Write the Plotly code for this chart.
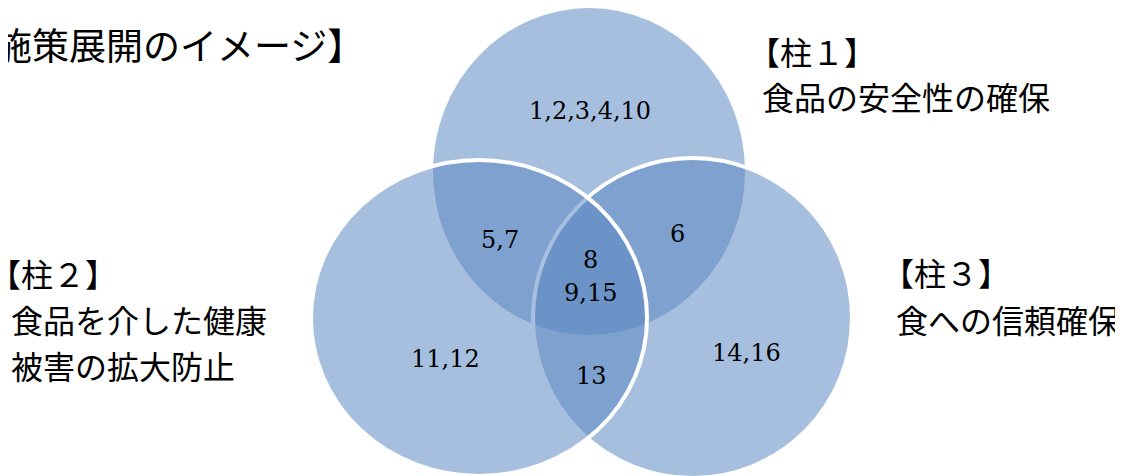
import plotly.graph_objects as go

# ---- text content ----
title_text = "【施策展開のイメージ】"
pillar_heads = ["【柱１】", "【柱２】", "【柱３】"]
pillar_lines = [["食品の安全性の確保"], ["食品を介した健康", "被害の拡大防止"], ["食への信頼確保"]]
region_labels = ["1,2,3,4,10", "5,7", "6", "8", "9,15", "11,12", "13", "14,16"]

# ---- layout (screen pixel coordinates, y downward) ----
W, H = 1123, 476
OFF = 8  # page body margin
circle_boxes = {  # x0, x1, y0, y1
    "top": (433, 745, 8, 335),
    "right": (533, 852, 158, 478),
    "left": (311, 647, 160, 476),
}
circle_lines = {"top": 0, "right": 4, "left": 4}
fill = "rgba(90,135,193,0.534)"

region_pos = [(590, 111), (500, 240), (677, 234), (590, 260), (590, 293),
              (445, 359), (591, 376), (746, 353)]
head_pos = [(746, 51, "left"), (119, 273, "right"), (880, 272, "left")]
line_pos = [[(760, 96)], [(9, 319), (9, 365)], [(894, 319)]]
title_pos = (366, 44)

jp_font = "Noto Sans CJK JP"
num_font = "DejaVu Serif"

fig = go.Figure()
fig.add_trace(go.Scatter(x=[OFF, W], y=[OFF, H], mode="markers",
                         marker=dict(opacity=0), hoverinfo="skip", showlegend=False))

for key in ["top", "right", "left"]:
    x0, x1, y0, y1 = circle_boxes[key]
    lw = circle_lines[key]
    fig.add_shape(type="circle", xref="x", yref="y", x0=x0, x1=x1, y0=y0, y1=y1,
                  fillcolor=fill,
                  line=dict(color="white", width=lw) if lw else dict(width=0),
                  layer="above")

for txt, (x, y) in zip(region_labels, region_pos):
    fig.add_annotation(x=x, y=y, text=txt, showarrow=False, xanchor="center", yanchor="middle",
                       font=dict(family=num_font, size=24, color="black"))

for head, (x, y, anc) in zip(pillar_heads, head_pos):
    fig.add_annotation(x=x, y=y, text=head, showarrow=False, xanchor=anc, yanchor="middle",
                       font=dict(family=jp_font, size=32, color="black"))

for lines, poss in zip(pillar_lines, line_pos):
    for txt, (x, y) in zip(lines, poss):
        fig.add_annotation(x=x, y=y, text=txt, showarrow=False, xanchor="left", yanchor="middle",
                           font=dict(family=jp_font, size=32, color="black"))

fig.add_annotation(x=title_pos[0], y=title_pos[1], text=title_text, showarrow=False,
                   xanchor="right", yanchor="middle",
                   font=dict(family=jp_font, size=37, color="black"))

fig.update_layout(
    width=W, height=H, margin=dict(l=0, r=0, t=0, b=0),
    paper_bgcolor="white", plot_bgcolor="white",
    xaxis=dict(range=[OFF, W + OFF], visible=False, fixedrange=True),
    yaxis=dict(range=[H + OFF, OFF], visible=False, fixedrange=True),
    showlegend=False,
)
fig.write_html("out.html")
